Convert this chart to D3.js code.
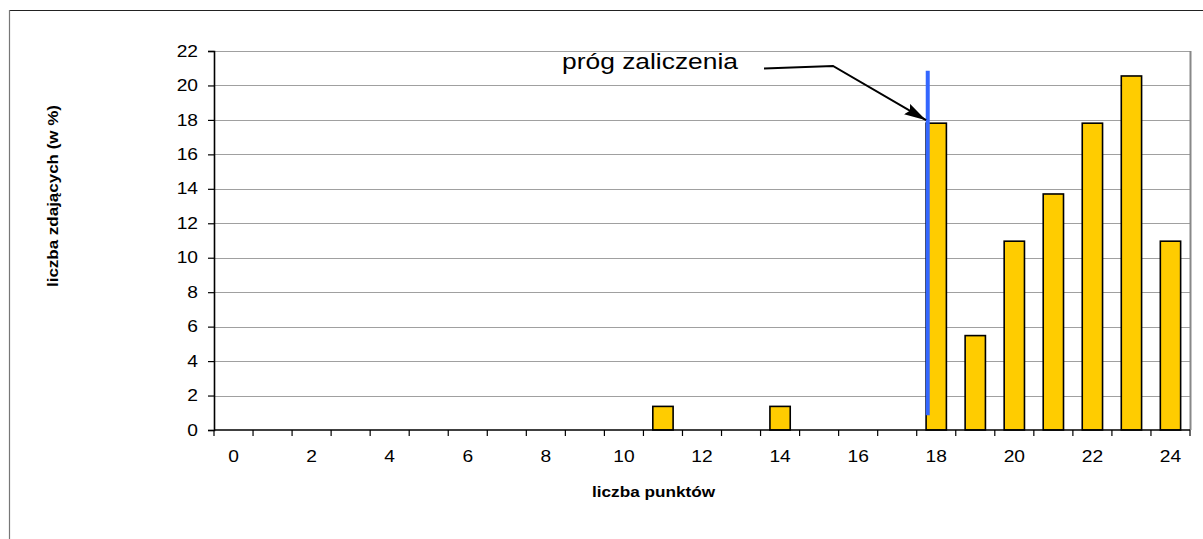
<!DOCTYPE html>
<html><head><meta charset="utf-8">
<script src="https://d3js.org/d3.v7.min.js"></script>
<style>body{margin:0;background:#fff;}svg{display:block;font-family:Arial,"Liberation Sans",sans-serif;}</style>
</head><body>
<svg id="c" width="1203" height="539"></svg>
<script>
const categories = d3.range(0, 25);
const values = [0,0,0,0,0,0,0,0,0,0,0,1.37,0,0,1.37,0,0,0,17.81,5.48,10.96,13.70,17.81,20.55,10.96];
const yTicks = d3.range(0, 23, 2);
const xTickLabels = d3.range(0, 25, 2);
const thresholdCategory = 18;
const thresholdRange = [0.85, 20.85];
const annotationText = "próg zaliczenia";
const xTitle = "liczba punktów";
const yTitle = "liczba zdających (w %)";

const svg = d3.select("#c");
const L = 214, R = 1190, T = 51, B = 430;
const SX = 1.2;

// outer frame
svg.append("line").attr("x1",9.5).attr("x2",1203).attr("y1",10.5).attr("y2",10.5).attr("stroke","#222").attr("stroke-width",1.2);
svg.append("line").attr("x1",9.5).attr("x2",9.5).attr("y1",10).attr("y2",539).attr("stroke","#777").attr("stroke-width",1.2);

const x = d3.scaleBand().domain(categories).range([L, R]).paddingInner(0.48).paddingOuter(0.24);
const xb = d3.scaleBand().domain(categories).range([L, R]);
const y = d3.scaleLinear().domain([0, 22]).range([B, T]);

// gridlines
svg.append("g").selectAll("line").data(yTicks.filter(d=>d>0)).join("line")
  .attr("x1",L).attr("x2",R).attr("y1",d=>Math.round(y(d))+0.5).attr("y2",d=>Math.round(y(d))+0.5)
  .attr("stroke","#a0a0a0").attr("stroke-width",1.2);
svg.append("line").attr("x1",R+0.5).attr("x2",R+0.5).attr("y1",T).attr("y2",B).attr("stroke","#888").attr("stroke-width",2);

// bars
svg.append("g").selectAll("rect").data(categories.filter((c,i)=>values[i]>0)).join("rect")
  .attr("x",d=>x(d)).attr("width",x.bandwidth())
  .attr("y",d=>y(values[d])).attr("height",d=>B-y(values[d]))
  .attr("fill","#ffcc00").attr("stroke","#000").attr("stroke-width",1.6);

// y axis
const yAxis = svg.append("g").attr("transform",`translate(${L},0)`)
  .call(d3.axisLeft(y).tickValues(yTicks).tickSize(6).tickPadding(10));
yAxis.select(".domain").attr("stroke","#000").attr("stroke-width",1.6);
yAxis.selectAll(".tick line").attr("stroke","#000").attr("stroke-width",1.2);
yAxis.selectAll(".tick text").attr("font-size",16).attr("fill","#000")
  .attr("font-family","Arial, 'Liberation Sans', sans-serif")
  .attr("x",null).attr("transform",`translate(-16,0) scale(${SX},1)`);

// x axis
const xAxis = svg.append("g").attr("transform",`translate(0,${B})`);
xAxis.append("line").attr("x1",L).attr("x2",R).attr("y1",0).attr("y2",0).attr("stroke","#000").attr("stroke-width",1.6);
xAxis.selectAll("line.tk").data(categories.concat([25])).join("line").attr("class","tk")
  .attr("x1",d=>d<25?xb(d):R).attr("x2",d=>d<25?xb(d):R).attr("y1",0).attr("y2",6)
  .attr("stroke","#000").attr("stroke-width",1.2);
xAxis.selectAll("text").data(xTickLabels).join("text")
  .attr("transform",d=>`translate(${xb(d)+xb.bandwidth()/2},32) scale(${SX},1)`)
  .attr("text-anchor","middle")
  .attr("font-size",16).attr("fill","#000").text(d=>d);

// threshold line
svg.append("line")
  .attr("x1",xb(thresholdCategory)+xb.bandwidth()/2-8.5).attr("x2",xb(thresholdCategory)+xb.bandwidth()/2-8.5)
  .attr("y1",y(thresholdRange[0])).attr("y2",y(thresholdRange[1]))
  .attr("stroke","#3366ff").attr("stroke-width",4);

// annotation
svg.append("defs").append("marker").attr("id","ah").attr("viewBox","0 0 10 10").attr("refX",10).attr("refY",5)
  .attr("markerWidth",22).attr("markerHeight",12).attr("preserveAspectRatio","none")
  .attr("markerUnits","userSpaceOnUse").attr("orient","auto")
  .append("path").attr("d","M0,0 L10,5 L0,10 L1.5,5 z").attr("fill","#000");
svg.append("text").attr("x",562).attr("y",69).attr("font-size",22).attr("fill","#000")
  .attr("textLength",176).attr("lengthAdjust","spacingAndGlyphs").text(annotationText);
const tipX = x(thresholdCategory), tipY = y(values[thresholdCategory]) - 3;
svg.append("path").attr("d",`M764,68.5 L833,66 L${tipX},${tipY}`)
  .attr("fill","none").attr("stroke","#000").attr("stroke-width",2).attr("marker-end","url(#ah)");

// titles
svg.append("text").attr("x",592).attr("y",497).attr("font-size",15).attr("font-weight","bold")
  .attr("textLength",123).attr("lengthAdjust","spacingAndGlyphs").text(xTitle);
svg.append("text").attr("transform","translate(58,287) rotate(-90)")
  .attr("font-size",14).attr("font-weight","bold")
  .attr("textLength",182).attr("lengthAdjust","spacingAndGlyphs").text(yTitle);
</script>
</body></html>
